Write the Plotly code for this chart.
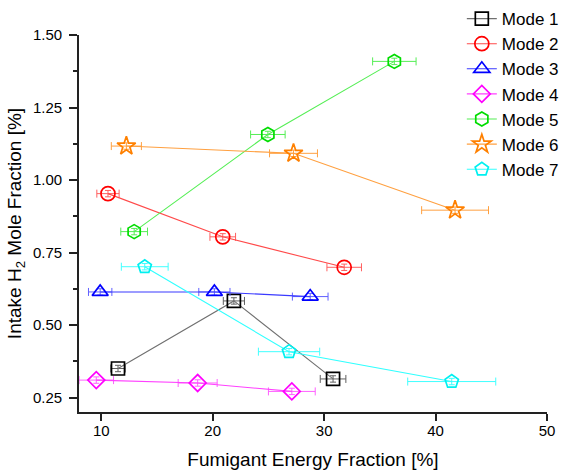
import plotly.graph_objects as go

# ---- data ----
mode_names = ["Mode 1", "Mode 2", "Mode 3", "Mode 4", "Mode 5", "Mode 6", "Mode 7"]

m1_x = [11.5, 21.9, 30.8]
m1_y = [0.350, 0.583, 0.314]
m1_ex = [0.65, 0.95, 1.15]

m2_x = [10.6, 20.9, 31.8]
m2_y = [0.953, 0.804, 0.699]
m2_ex = [1.0, 1.15, 1.55]

m3_x = [9.9, 20.15, 28.75]
m3_y = [0.614, 0.614, 0.598]
m3_ex = [1.05, 1.4, 1.6]

m4_x = [9.55, 18.65, 27.1]
m4_y = [0.310, 0.300, 0.271]
m4_ex = [1.55, 1.75, 2.1]

m5_x = [12.95, 24.95, 36.3]
m5_y = [0.822, 1.157, 1.409]
m5_ex = [1.2, 1.55, 1.95]

m6_x = [12.25, 27.25, 41.75]
m6_y = [1.117, 1.092, 0.896]
m6_ex = [1.35, 2.15, 3.0]

m7_x = [13.9, 26.85, 41.45]
m7_y = [0.701, 0.408, 0.305]
m7_ex = [2.1, 2.75, 3.95]

y_err = 0.011

x_ticks = [10, 20, 30, 40, 50]
y_ticks = [0.25, 0.50, 0.75, 1.00, 1.25, 1.50]

series = [
    (m1_x, m1_y, m1_ex, "square-open", 13, "#000000", "#707070", "#606060"),
    (m2_x, m2_y, m2_ex, "circle-open", 14, "#ff0000", "#ff4a4a", "#ff6060"),
    (m3_x, m3_y, m3_ex, "triangle-up-open", 14, "#0000ff", "#3a3aff", "#6060ff"),
    (m4_x, m4_y, m4_ex, "diamond-open", 13, "#ff00ff", "#ff40ff", "#ff60ff"),
    (m5_x, m5_y, m5_ex, "hexagon-open", 14, "#00dd00", "#55ee55", "#55ee55"),
    (m6_x, m6_y, m6_ex, "star-open", 14, "#ff8000", "#ffa040", "#ffa040"),
    (m7_x, m7_y, m7_ex, "pentagon-open", 14, "#00f0f0", "#30ffff", "#40ffff"),
]

font_family = "Arial, 'Liberation Sans', sans-serif"

fig = go.Figure()
for name, (xs, ys, ex, sym, size, mcol, lcol, ecol) in zip(mode_names, series):
    fig.add_trace(go.Scatter(
        x=xs, y=ys, name=name, mode="lines+markers",
        line=dict(color=lcol, width=1.1),
        marker=dict(symbol=sym, size=size, color=mcol, line=dict(color=mcol, width=1.7)),
        error_x=dict(type="data", array=ex, visible=True, color=ecol, thickness=1, width=4),
        error_y=dict(type="data", array=[y_err] * len(ys), visible=True, color=ecol, thickness=1, width=3),
    ))

axis_common = dict(
    showline=True, linecolor="#222222", linewidth=1.6, mirror=False,
    ticks="outside", tickcolor="#222222", tickwidth=1.5,
    showgrid=False, zeroline=False,
    tickfont=dict(family=font_family, size=15, color="#000000"),
)

fig.update_xaxes(
    range=[8, 50], tickvals=x_ticks, ticklen=7, ticklabelstandoff=-3,
    title=dict(text="Fumigant Energy Fraction [%]", font=dict(family=font_family, size=19, color="#000000"), standoff=15),
    **axis_common,
)
fig.update_yaxes(
    range=[0.2, 1.5], tickvals=y_ticks, tickformat=".2f", ticklen=8, ticklabelstandoff=4,
    minor=dict(ticks="outside", dtick=0.125, tick0=0.125, ticklen=4, tickcolor="#222222", tickwidth=1.5),
    title=dict(text="Intake H<sub>2</sub> Mole Fraction [%]", font=dict(family=font_family, size=19, color="#000000"), standoff=6),
    **axis_common,
)

fig.update_layout(
    width=568, height=475,
    margin=dict(l=79, r=21, t=35, b=63, autoexpand=False),
    paper_bgcolor="#ffffff", plot_bgcolor="#ffffff",
    font=dict(family=font_family, color="#000000"),
    legend=dict(
        x=0.818, y=1.09, xanchor="left", yanchor="top",
        bgcolor="rgba(0,0,0,0)", borderwidth=0,
        font=dict(family=font_family, size=17, color="#000000"),
        itemsizing="trace",
    ),
    showlegend=True,
)

fig.write_html("out.html")
